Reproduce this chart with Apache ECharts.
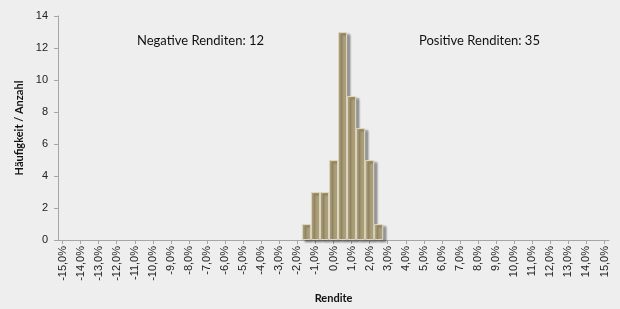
<!DOCTYPE html>
<html><head><meta charset="utf-8">
<script src="https://cdn.jsdelivr.net/npm/echarts@6/dist/echarts.min.js"></script>
<style>html,body{margin:0;padding:0;background:#eeeeee}#c{width:620px;height:309px}</style>
</head><body><div id="c"></div>
<script>
var categories = ['-15,0%','-14,5%','-14,0%','-13,5%','-13,0%','-12,5%','-12,0%','-11,5%','-11,0%','-10,5%','-10,0%','-9,5%','-9,0%','-8,5%','-8,0%','-7,5%','-7,0%','-6,5%','-6,0%','-5,5%','-5,0%','-4,5%','-4,0%','-3,5%','-3,0%','-2,5%','-2,0%','-1,5%','-1,0%','-0,5%','0,0%','0,5%','1,0%','1,5%','2,0%','2,5%','3,0%','3,5%','4,0%','4,5%','5,0%','5,5%','6,0%','6,5%','7,0%','7,5%','8,0%','8,5%','9,0%','9,5%','10,0%','10,5%','11,0%','11,5%','12,0%','12,5%','13,0%','13,5%','14,0%','14,5%','15,0%'];
var counts = [0,0,0,0,0,0,0,0,0,0,0,0,0,0,0,0,0,0,0,0,0,0,0,0,0,0,0,1,3,3,5,13,9,7,5,1,0,0,0,0,0,0,0,0,0,0,0,0,0,0,0,0,0,0,0,0,0,0,0,0,0];
var annotations = ['Negative Renditen: 12','Positive Renditen: 35'];
var barData = counts.map(function(v){ return v > 0 ? v : null; });
var chart = echarts.init(document.getElementById('c'), null, {renderer:'canvas'});
chart.setOption({
  backgroundColor:'#eeeeee',
  animation:false,
  grid:{left:58,right:11,top:16,bottom:68},
  graphic:[
    {type:'text',left:137,top:34,style:{text:annotations[0],font:'13px Lato',fill:'#111'}},
    {type:'text',left:419,top:34,style:{text:annotations[1],font:'13px Lato',fill:'#111'}}
  ],
  xAxis:{type:'category',data:categories,
    name:'Rendite',nameLocation:'middle',nameGap:53,
    nameTextStyle:{fontFamily:'Lato',fontWeight:'bold',fontSize:11,color:'#111'},
    axisLine:{lineStyle:{color:'#a6a6a6'}},
    axisTick:{show:true,interval:1,alignWithLabel:true,lineStyle:{color:'#a6a6a6'},length:4},
    axisLabel:{interval:1,rotate:90,fontFamily:'Liberation Sans',fontSize:11,color:'#222',margin:6}
  },
  yAxis:{type:'value',min:0,max:14,interval:2,
    name:'Häufigkeit / Anzahl',nameLocation:'middle',nameGap:31,
    nameTextStyle:{fontFamily:'Lato',fontWeight:'bold',fontSize:11,color:'#111'},
    axisLine:{show:true,lineStyle:{color:'#a6a6a6'}},
    axisTick:{show:true,lineStyle:{color:'#a6a6a6'},length:4},
    splitLine:{show:false},
    axisLabel:{fontFamily:'Liberation Sans',fontSize:11,color:'#222',margin:10}
  },
  series:[{type:'bar',data:barData,barCategoryGap:'0%',
    itemStyle:{color:'#ab9d76',borderColor:'#ddd6c2',borderWidth:1,
      shadowColor:'rgba(0,0,0,0.35)',shadowOffsetX:3,shadowOffsetY:2,shadowBlur:2}}]
});
</script></body></html>
